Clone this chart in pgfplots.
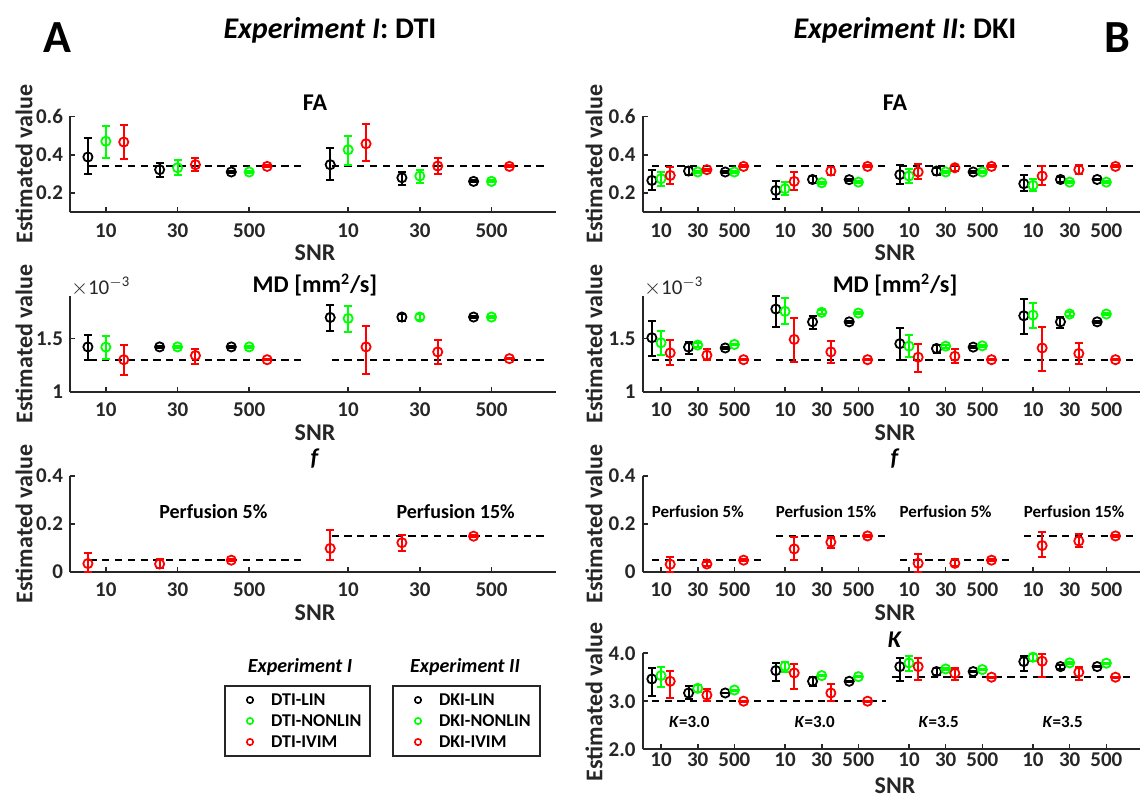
\documentclass[border=0pt]{standalone}
\usepackage{pgfplots}
\pgfplotsset{compat=1.18}
\usepackage{pgfplotstable}
\usepackage{fontspec}
\setmainfont{Carlito}

\definecolor{axgray}{RGB}{38,38,38}
\definecolor{mgreen}{RGB}{0,255,0}
\definecolor{mred}{RGB}{255,0,0}

\newcommand{\tickfont}{\fontsize{10.5}{12}\selectfont\bfseries}
\newcommand{\labfont}{\fontsize{12}{14}\selectfont\bfseries}
\newcommand{\legfont}{\fontsize{9}{10}\selectfont\bfseries}

% ---------------- Experiment I (DTI) ----------------
\pgfplotstableread{
x y em ep
0.75 0.388 0.088 0.099
1.75 0.322 0.039 0.036
2.75 0.310 0.006 0.006
4.13 0.348 0.082 0.089
5.13 0.280 0.040 0.030
6.13 0.261 0.005 0.005
}\faIblk
\pgfplotstableread{
x y em ep
1.00 0.470 0.087 0.080
2.00 0.332 0.036 0.038
3.00 0.310 0.006 0.006
4.38 0.426 0.082 0.074
5.38 0.289 0.035 0.033
6.38 0.261 0.005 0.005
}\faIgrn
\pgfplotstableread{
x y em ep
1.25 0.466 0.087 0.091
2.25 0.348 0.035 0.036
3.25 0.339 0.005 0.005
4.63 0.457 0.092 0.105
5.63 0.341 0.041 0.043
6.63 0.339 0.005 0.005
}\faIred

\pgfplotstableread{
x y em ep
0.75 1.420 0.120 0.110
1.75 1.420 0.012 0.012
2.75 1.420 0.006 0.006
4.13 1.696 0.126 0.120
5.13 1.700 0.040 0.028
6.13 1.700 0.006 0.006
}\mdIblk
\pgfplotstableread{
x y em ep
1.00 1.418 0.108 0.102
2.00 1.420 0.012 0.012
3.00 1.420 0.006 0.006
4.38 1.687 0.124 0.113
5.38 1.700 0.030 0.030
6.38 1.700 0.006 0.006
}\mdIgrn
\pgfplotstableread{
x y em ep
1.25 1.300 0.142 0.137
2.25 1.339 0.079 0.057
3.25 1.300 0.006 0.006
4.63 1.420 0.255 0.197
5.63 1.373 0.110 0.111
6.63 1.310 0.006 0.006
}\mdIred

\pgfplotstableread{
x y em ep
0.75 0.034 0.034 0.046
1.75 0.032 0.018 0.023
2.75 0.048 0.004 0.004
4.13 0.097 0.049 0.075
5.13 0.121 0.034 0.034
6.13 0.148 0.004 0.004
}\fIred

% ---------------- Experiment II (DKI) ----------------
\pgfplotstableread{
x y em ep
0.75 0.266 0.052 0.052
1.75 0.315 0.019 0.021
2.75 0.310 0.005 0.005
4.13 0.214 0.044 0.047
5.13 0.271 0.017 0.018
6.13 0.270 0.005 0.005
7.51 0.296 0.051 0.052
8.51 0.315 0.019 0.017
9.51 0.310 0.005 0.005
10.89 0.249 0.040 0.043
11.89 0.271 0.014 0.012
12.89 0.271 0.005 0.005
}\faIIblk
\pgfplotstableread{
x y em ep
1.00 0.275 0.038 0.035
2.00 0.310 0.006 0.006
3.00 0.310 0.005 0.005
4.38 0.223 0.035 0.034
5.38 0.254 0.006 0.006
6.38 0.257 0.005 0.005
7.76 0.289 0.035 0.034
8.76 0.310 0.006 0.006
9.76 0.310 0.005 0.005
11.14 0.240 0.031 0.031
12.14 0.257 0.006 0.006
13.14 0.257 0.005 0.005
}\faIIgrn
\pgfplotstableread{
x y em ep
1.25 0.292 0.043 0.044
2.25 0.322 0.006 0.006
3.25 0.339 0.005 0.005
4.63 0.261 0.047 0.049
5.63 0.315 0.023 0.021
6.63 0.339 0.005 0.005
8.01 0.310 0.039 0.043
9.01 0.332 0.015 0.012
10.01 0.339 0.005 0.005
11.39 0.289 0.046 0.052
12.39 0.322 0.022 0.022
13.39 0.339 0.005 0.005
}\faIIred

\pgfplotstableread{
x y em ep
0.75 1.506 0.174 0.159
1.75 1.418 0.064 0.050
2.75 1.410 0.008 0.008
4.13 1.775 0.167 0.125
5.13 1.655 0.070 0.057
6.13 1.655 0.008 0.008
7.51 1.450 0.150 0.145
8.51 1.405 0.041 0.032
9.51 1.418 0.008 0.008
10.89 1.712 0.168 0.158
11.89 1.655 0.055 0.045
12.89 1.655 0.008 0.008
}\mdIIblk
\pgfplotstableread{
x y em ep
1.00 1.459 0.119 0.111
2.00 1.437 0.015 0.015
3.00 1.443 0.008 0.008
4.38 1.753 0.120 0.124
5.38 1.744 0.020 0.020
6.38 1.737 0.008 0.008
7.76 1.427 0.104 0.103
8.76 1.427 0.015 0.015
9.76 1.430 0.008 0.008
11.14 1.718 0.118 0.112
12.14 1.728 0.018 0.018
13.14 1.728 0.008 0.008
}\mdIIgrn
\pgfplotstableread{
x y em ep
1.25 1.364 0.117 0.120
2.25 1.342 0.042 0.063
3.25 1.300 0.006 0.006
4.63 1.490 0.212 0.197
5.63 1.373 0.103 0.107
6.63 1.300 0.006 0.006
8.01 1.323 0.139 0.120
9.01 1.332 0.062 0.064
10.01 1.300 0.006 0.006
11.39 1.410 0.220 0.198
12.39 1.358 0.095 0.094
13.39 1.300 0.006 0.006
}\mdIIred

\pgfplotstableread{
x y em ep
1.25 0.031 0.031 0.032
2.25 0.032 0.007 0.007
3.25 0.048 0.004 0.004
4.63 0.095 0.046 0.051
5.63 0.123 0.025 0.023
6.63 0.149 0.004 0.004
8.01 0.035 0.035 0.037
9.01 0.035 0.010 0.018
10.01 0.048 0.004 0.004
11.39 0.109 0.049 0.055
12.39 0.128 0.026 0.028
13.39 0.149 0.004 0.004
}\fIIred

\pgfplotstableread{
x y em ep
0.75 3.463 0.363 0.230
1.75 3.171 0.126 0.139
2.75 3.171 0.010 0.010
4.13 3.638 0.209 0.160
5.13 3.415 0.105 0.083
6.13 3.415 0.010 0.010
7.51 3.721 0.291 0.181
8.51 3.617 0.070 0.069
9.51 3.617 0.010 0.010
10.89 3.826 0.188 0.111
11.89 3.721 0.049 0.042
12.89 3.721 0.010 0.010
}\kIIblk
\pgfplotstableread{
x y em ep
1.00 3.533 0.244 0.174
2.00 3.268 0.068 0.070
3.00 3.233 0.010 0.010
4.38 3.728 0.125 0.098
5.38 3.533 0.015 0.015
6.38 3.512 0.010 0.010
7.76 3.798 0.160 0.139
8.76 3.672 0.015 0.015
9.76 3.659 0.010 0.010
11.14 3.916 0.069 0.070
12.14 3.798 0.015 0.015
13.14 3.791 0.010 0.010
}\kIIgrn
\pgfplotstableread{
x y em ep
1.25 3.415 0.355 0.209
2.25 3.129 0.119 0.125
3.25 3.000 0.010 0.010
4.63 3.589 0.335 0.188
5.63 3.171 0.171 0.188
6.63 3.000 0.010 0.010
8.01 3.721 0.278 0.181
9.01 3.582 0.133 0.111
10.01 3.500 0.010 0.010
11.39 3.833 0.335 0.153
12.39 3.603 0.154 0.118
13.39 3.500 0.010 0.010
}\kIIred

\pgfplotsset{
  panel/.style={scale only axis, height=48pt,
    axis x line*=bottom, axis y line*=left,
    axis line style={draw=axgray, line width=1pt, -},
    x axis line style={-}, y axis line style={-},
    tick style={draw=axgray, line width=0.8pt},
    major tick length=2.6pt, tick align=inside,
    tick label style={font=\tickfont, text=axgray},
    xticklabel style={yshift=-2pt},
    clip=false},
  leftcol/.style={panel, width=243pt, xmin=0.5, xmax=7.28,
    xtick={1,2,3,4.38,5.38,6.38}, xticklabels={10,30,500,10,30,500}},
  rightcol/.style={panel, width=248.5pt, xmin=0.5, xmax=14.05,
    xtick={1,2,3,4.38,5.38,6.38,7.76,8.76,9.76,11.14,12.14,13.14},
    xticklabels={10,30,500,10,30,500,10,30,500,10,30,500}},
  fa/.style={ymin=0.1, ymax=0.6, ytick={0.2,0.4,0.6}, yticklabels={0.2,0.4,0.6}},
  md/.style={ymin=1, ymax=1.9, ytick={1,1.5}, yticklabels={1,1.5}},
  ff/.style={ymin=0, ymax=0.4, ytick={0,0.2,0.4}, yticklabels={0,0.2,0.4}},
  kk/.style={ymin=2, ymax=4, ytick={2,3,4}, yticklabels={2.0,3.0,4.0}},
  est/.style={only marks, mark=o, mark size=2.3pt, draw=#1,
    mark options={draw=#1, line width=0.9pt, solid},
    error bars/.cd, y dir=both, y explicit,
    error bar style={draw=#1, line width=1pt, solid},
    error mark options={draw=#1, line width=1pt, mark size=2pt, rotate=90}},
  refline/.style={black, line width=1pt, dash pattern=on 3.6pt off 2.8pt},
  legbox/.style={hide axis, scale only axis, width=10pt, height=10pt,
    xmin=0, xmax=1, ymin=0, ymax=1,
    legend style={at={(0,1)}, anchor=north west, draw=axgray, line width=1pt,
      fill=white, font=\legfont, inner xsep=4pt, inner ysep=2.75pt,
      row sep=2pt, column sep=5.5pt,
      nodes={inner sep=0.5pt, text height=6.5pt, text depth=1pt}},
    legend cell align=left,
    legend image code/.code={\draw[##1] plot coordinates {(0pt,0pt)};
      \path (-8pt,0pt) (4pt,0pt);}},
  table/x=x, table/y=y, table/y error minus=em, table/y error plus=ep,
}

\begin{document}
\begin{tikzpicture}
\useasboundingbox (0,0) rectangle (572.5pt,400pt);

% ===== Experiment I: FA =====
\begin{axis}[leftcol, fa, at={(35pt,293.85pt)}]
\addplot[refline] coordinates {(0.77,0.34) (3.77,0.34)};
\addplot[refline] coordinates {(4.15,0.34) (7.15,0.34)};
\addplot[est=black] table {\faIblk};
\addplot[est=mgreen] table {\faIgrn};
\addplot[est=mred] table {\faIred};
\end{axis}

% ===== Experiment I: MD =====
\begin{axis}[leftcol, md, at={(35pt,204.15pt)}]
\addplot[refline] coordinates {(0.77,1.3) (3.77,1.3)};
\addplot[refline] coordinates {(4.15,1.3) (7.15,1.3)};
\addplot[est=black] table {\mdIblk};
\addplot[est=mgreen] table {\mdIgrn};
\addplot[est=mred] table {\mdIred};
\end{axis}

% ===== Experiment I: f =====
\begin{axis}[leftcol, ff, at={(35pt,114.15pt)}]
\addplot[refline] coordinates {(0.77,0.05) (3.77,0.05)};
\addplot[refline] coordinates {(4.15,0.15) (7.15,0.15)};
\addplot[est=mred] table {\fIred};
\node[font=\fontsize{10}{12}\selectfont\bfseries] at (axis cs:2.5,0.25) {Perfusion 5\%};
\node[font=\fontsize{10}{12}\selectfont\bfseries] at (axis cs:5.88,0.25) {Perfusion 15\%};
\end{axis}

% ===== Experiment II: FA =====
\begin{axis}[rightcol, fa, at={(321.35pt,293.85pt)}]
\addplot[refline] coordinates {(0.75,0.34) (3.72,0.34)};
\addplot[refline] coordinates {(4.13,0.34) (7.10,0.34)};
\addplot[refline] coordinates {(7.51,0.34) (10.48,0.34)};
\addplot[refline] coordinates {(10.89,0.34) (13.86,0.34)};
\addplot[est=black] table {\faIIblk};
\addplot[est=mgreen] table {\faIIgrn};
\addplot[est=mred] table {\faIIred};
\end{axis}

% ===== Experiment II: MD =====
\begin{axis}[rightcol, md, at={(321.35pt,204.15pt)}]
\addplot[refline] coordinates {(0.75,1.3) (3.72,1.3)};
\addplot[refline] coordinates {(4.13,1.3) (7.10,1.3)};
\addplot[refline] coordinates {(7.51,1.3) (10.48,1.3)};
\addplot[refline] coordinates {(10.89,1.3) (13.86,1.3)};
\addplot[est=black] table {\mdIIblk};
\addplot[est=mgreen] table {\mdIIgrn};
\addplot[est=mred] table {\mdIIred};
\end{axis}

% ===== Experiment II: f =====
\begin{axis}[rightcol, ff, at={(321.35pt,114.15pt)}]
\addplot[refline] coordinates {(0.75,0.05) (3.72,0.05)};
\addplot[refline] coordinates {(4.13,0.15) (7.10,0.15)};
\addplot[refline] coordinates {(7.51,0.05) (10.48,0.05)};
\addplot[refline] coordinates {(10.89,0.15) (13.86,0.15)};
\addplot[est=mred] table {\fIIred};
\node[font=\fontsize{8.5}{10}\selectfont\bfseries] at (axis cs:2.0,0.25) {Perfusion 5\%};
\node[font=\fontsize{8.5}{10}\selectfont\bfseries] at (axis cs:5.5,0.25) {Perfusion 15\%};
\node[font=\fontsize{8.5}{10}\selectfont\bfseries] at (axis cs:8.76,0.25) {Perfusion 5\%};
\node[font=\fontsize{8.5}{10}\selectfont\bfseries] at (axis cs:12.26,0.25) {Perfusion 15\%};
\end{axis}

% ===== Experiment II: K =====
\begin{axis}[rightcol, kk, at={(321.35pt,25.4pt)}, xticklabel style={yshift=1.5pt, inner sep=1pt}]
\addplot[refline] coordinates {(0.75,3.0) (7.12,3.0)};
\addplot[refline] coordinates {(7.30,3.5) (13.86,3.5)};
\addplot[est=black] table {\kIIblk};
\addplot[est=mgreen] table {\kIIgrn};
\addplot[est=mred] table {\kIIred};
\node[font=\fontsize{8.5}{10}\selectfont\bfseries] at (axis cs:1.77,2.56) {\textit{K}=3.0};
\node[font=\fontsize{8.5}{10}\selectfont\bfseries] at (axis cs:5.19,2.56) {\textit{K}=3.0};
\node[font=\fontsize{8.5}{10}\selectfont\bfseries] at (axis cs:8.57,2.56) {\textit{K}=3.5};
\node[font=\fontsize{8.5}{10}\selectfont\bfseries] at (axis cs:11.95,2.56) {\textit{K}=3.5};
\end{axis}

% ===== legends =====
\begin{axis}[legbox, at={(112pt,47.5pt)}]
\addlegendimage{only marks, mark=o, mark size=1.6pt, mark options={line width=0.8pt}, draw=black}
\addlegendentry{DTI-LIN}
\addlegendimage{only marks, mark=o, mark size=1.6pt, mark options={line width=0.8pt}, draw=mgreen}
\addlegendentry{DTI-NONLIN}
\addlegendimage{only marks, mark=o, mark size=1.6pt, mark options={line width=0.8pt}, draw=mred}
\addlegendentry{DTI-IVIM}
\end{axis}
\begin{axis}[legbox, at={(196pt,47.5pt)}]
\addlegendimage{only marks, mark=o, mark size=1.6pt, mark options={line width=0.8pt}, draw=black}
\addlegendentry{DKI-LIN}
\addlegendimage{only marks, mark=o, mark size=1.6pt, mark options={line width=0.8pt}, draw=mgreen}
\addlegendentry{DKI-NONLIN}
\addlegendimage{only marks, mark=o, mark size=1.6pt, mark options={line width=0.8pt}, draw=mred}
\addlegendentry{DKI-IVIM}
\end{axis}

% ===== text around the panels (pixel-like grid, y downward) =====
\begin{scope}[x=0.5pt, y=-0.5pt, shift={(0pt,400pt)}]
  \node[font=\fontsize{23}{25}\selectfont\bfseries] at (57,38) {A};
  \node[font=\fontsize{23}{25}\selectfont\bfseries] at (1117,38) {B};
  \node[font=\fontsize{15}{17}\selectfont\bfseries] at (330,30) {\textit{Experiment I}: DTI};
  \node[font=\fontsize{15}{17}\selectfont\bfseries] at (905,30) {\textit{Experiment II}: DKI};
  % panel titles
  \foreach \cx in {315,895} {
    \node[font=\labfont, text=black] at (\cx,103) {FA};
    \node[font=\labfont, text=black] at (\cx,285) {MD [mm\textsuperscript{2}/s]};
    \node[font=\labfont, text=black] at (\cx,459) {\textit{f}};
  }
  \node[font=\labfont, text=black] at (895,640) {\textit{K}};
  % x labels
  \foreach \cy in {253,433,613} {
    \node[font=\labfont, text=axgray] at (315,\cy) {SNR};
    \node[font=\labfont, text=axgray] at (895,\cy) {SNR};
  }
  \node[font=\labfont, text=axgray, inner sep=0pt, anchor=base] at (895,793) {SNR};
  % y labels
  \foreach \cy in {164,344,524} {
    \node[font=\labfont, text=axgray, rotate=90] at (24,\cy) {Estimated value};
    \node[font=\labfont, text=axgray, rotate=90] at (594,\cy) {Estimated value};
  }
  \node[font=\labfont, text=axgray, rotate=90] at (594,702) {Estimated value};
  % axis multipliers
  \node[font=\fontsize{10.5}{12}\selectfont, text=axgray, anchor=west] at (64,287) {$\times$10\textsuperscript{$-$3}};
  \node[font=\fontsize{10.5}{12}\selectfont, text=axgray, anchor=west] at (637,287) {$\times$10\textsuperscript{$-$3}};
  % legend headings
  \node[font=\fontsize{10}{12}\selectfont\bfseries\itshape] at (300,667) {Experiment I};
  \node[font=\fontsize{10}{12}\selectfont\bfseries\itshape] at (465,667) {Experiment II};
\end{scope}
\end{tikzpicture}
\end{document}
